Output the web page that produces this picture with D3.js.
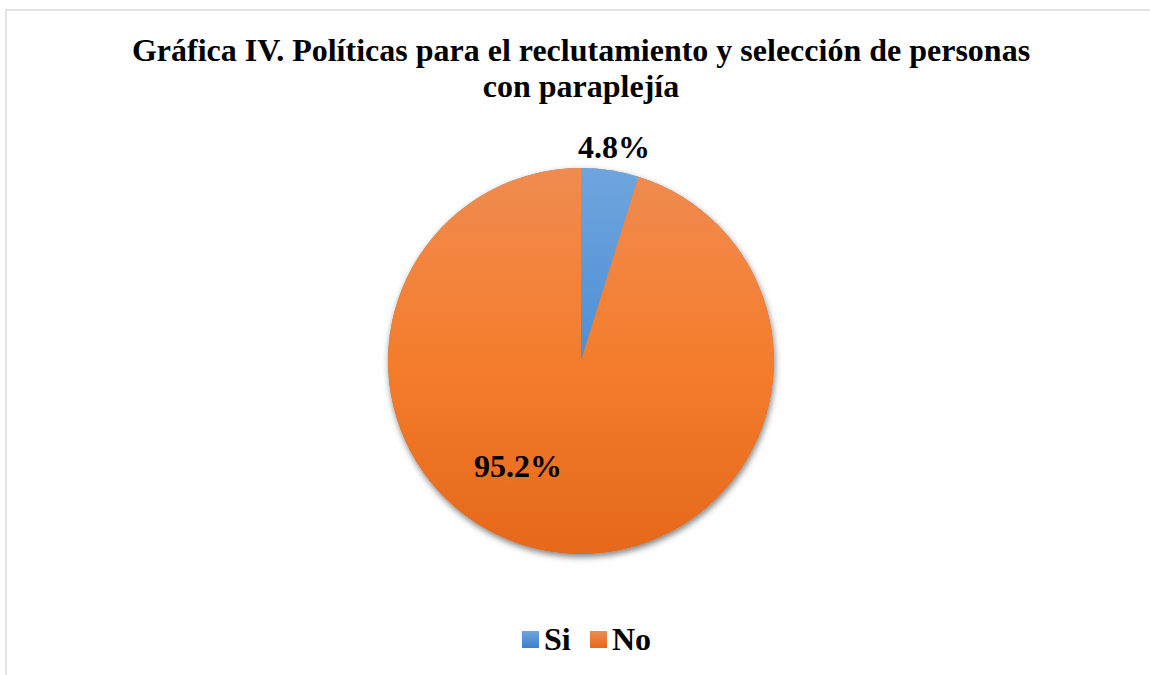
<!DOCTYPE html>
<html><head><meta charset="utf-8">
<script src="https://cdn.jsdelivr.net/npm/d3@7"></script>
<style>body{margin:0;background:#fff;}svg{display:block;}</style>
</head><body>
<svg id="c" width="1150" height="675"></svg>
<script>
const categories = ["Si", "No"];
const values = [4.8, 95.2];
const labels = ["4.8%", "95.2%"];
const titleLines = ["Gráfica IV. Políticas para el reclutamiento y selección de personas", "con paraplejía"];

const svg = d3.select("#c");
const font = "'Liberation Serif','Times New Roman',serif";

// chart frame
svg.append("rect").attr("x", 6).attr("y", 10).attr("width", 1160).attr("height", 700)
  .attr("fill", "#fff").attr("stroke", "#d9d9d9").attr("stroke-width", 1.5);

// title
svg.append("g").selectAll("text").data(titleLines).join("text")
  .attr("x", 581).attr("y", (d, i) => 61 + i * 36)
  .attr("text-anchor", "middle").attr("font-family", font)
  .attr("font-weight", "bold").attr("font-size", 32).attr("fill", "#000")
  .text(d => d);

const cx = 581, cy = 361, R = 193;
const defs = svg.append("defs");
const gradColors = [["#6fa5dd", "#4d8fd6", "#3f80c8"], ["#f08b50", "#f47d2c", "#e6681a"]];
gradColors.forEach((c, i) => {
  const g = defs.append("linearGradient").attr("id", "g" + i)
    .attr("gradientUnits", "userSpaceOnUse")
    .attr("x1", 0).attr("y1", -R).attr("x2", 0).attr("y2", R);
  g.append("stop").attr("offset", 0).attr("stop-color", c[0]);
  g.append("stop").attr("offset", 0.5).attr("stop-color", c[1]);
  g.append("stop").attr("offset", 1).attr("stop-color", c[2]);
});
const f = defs.append("filter").attr("id", "sh").attr("x", -0.2).attr("y", -0.2).attr("width", 1.4).attr("height", 1.4);
f.append("feDropShadow").attr("dx", 1).attr("dy", 3).attr("stdDeviation", 3)
  .attr("flood-color", "#000").attr("flood-opacity", 0.5);

const pie = d3.pie().sort(null).value(d => d)(values);
const arc = d3.arc().innerRadius(0).outerRadius(R);
const colorScale = d3.scaleOrdinal().domain(categories).range(["url(#g0)", "url(#g1)"]);

const pg = svg.append("g").attr("transform", `translate(${cx},${cy})`);
pg.append("g").attr("filter", "url(#sh)").selectAll("path").data(pie).join("path")
  .attr("d", arc).attr("fill", "#888");
pg.selectAll("path.s").data(pie).join("path").attr("class", "s")
  .attr("d", arc)
  .attr("fill", (d, i) => colorScale(categories[i]));

// labels
const labelPos = [[614, 158], [518, 477]];
svg.append("g").selectAll("text").data(labels).join("text")
  .attr("x", (d, i) => labelPos[i][0]).attr("y", (d, i) => labelPos[i][1])
  .attr("text-anchor", "middle").attr("font-family", font)
  .attr("font-weight", "bold").attr("font-size", 32).attr("fill", "#000")
  .text(d => d);

// legend
const leg = svg.append("g");
const legX = [522, 590];
categories.forEach((c, i) => {
  const lg = defs.append("linearGradient").attr("id", "lg" + i)
    .attr("x1", 0).attr("y1", 0).attr("x2", 0).attr("y2", 1);
  lg.append("stop").attr("offset", 0).attr("stop-color", gradColors[i][0]);
  lg.append("stop").attr("offset", 1).attr("stop-color", gradColors[i][2]);
  leg.append("rect").attr("x", legX[i]).attr("y", 631).attr("width", 17).attr("height", 17)
    .attr("fill", `url(#lg${i})`);
  leg.append("text").attr("x", legX[i] + 22).attr("y", 650)
    .attr("font-family", font).attr("font-weight", "bold").attr("font-size", 32)
    .text(c);
});
</script>
</body></html>
